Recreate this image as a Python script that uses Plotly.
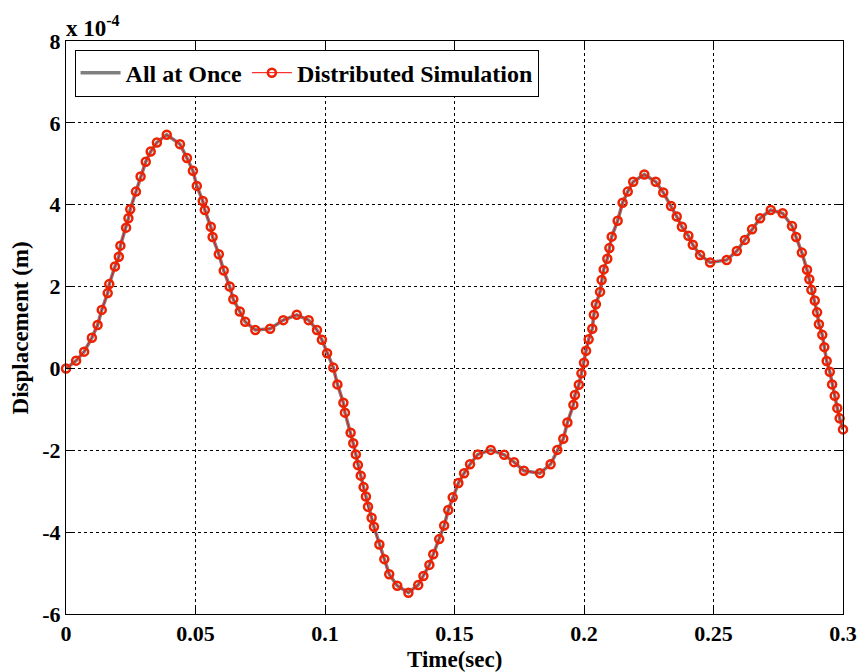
import plotly.graph_objects as go

# Time (s) and displacement (units of 1e-4 m)
time_s = [0.0000, 0.0039, 0.0070, 0.0100, 0.0122, 0.0138, 0.0161, 0.0167, 0.0189, 0.0204,
          0.0210, 0.0232, 0.0241, 0.0248, 0.0270, 0.0288, 0.0308, 0.0327, 0.0351, 0.0389,
          0.0440, 0.0467, 0.0490, 0.0505, 0.0528, 0.0536, 0.0559, 0.0566, 0.0590, 0.0609,
          0.0632, 0.0646, 0.0671, 0.0692, 0.0731,
          0.0788, 0.0839, 0.0891, 0.0937, 0.0969, 0.0988, 0.1008, 0.1032, 0.1048, 0.1071,
          0.1077, 0.1099, 0.1109, 0.1119, 0.1127, 0.1138, 0.1149, 0.1158, 0.1166, 0.1180,
          0.1189, 0.1210, 0.1229, 0.1248, 0.1279, 0.1322, 0.1360, 0.1380, 0.1403, 0.1418,
          0.1441, 0.1460, 0.1476, 0.1493, 0.1515,
          0.1537, 0.1560, 0.1590, 0.1640, 0.1692, 0.1730, 0.1768, 0.1830, 0.1871, 0.1897,
          0.1920, 0.1936, 0.1959, 0.1965, 0.1980, 0.1990, 0.2000, 0.2008, 0.2018, 0.2032,
          0.2038, 0.2046, 0.2062, 0.2068, 0.2076, 0.2090, 0.2098, 0.2107, 0.2130, 0.2149,
          0.2169, 0.2190, 0.2233,
          0.2277, 0.2306, 0.2336, 0.2358, 0.2378, 0.2403, 0.2420, 0.2448, 0.2487, 0.2551,
          0.2590, 0.2621, 0.2649, 0.2680, 0.2721, 0.2767, 0.2803, 0.2819, 0.2841, 0.2861,
          0.2870, 0.2878, 0.2891, 0.2900, 0.2907, 0.2920, 0.2928, 0.2937, 0.2949, 0.2958,
          0.2968, 0.2978, 0.2987, 0.3000]

disp_all_at_once = [0.00, 0.19, 0.41, 0.75, 1.06, 1.43, 1.84, 2.06, 2.49, 2.73,
                    3.00, 3.44, 3.67, 3.89, 4.32, 4.69, 5.05, 5.30, 5.52, 5.71,
                    5.48, 5.14, 4.83, 4.46, 4.09, 3.87, 3.46, 3.21, 2.79, 2.39,
                    2.00, 1.69, 1.39, 1.14, 0.94,
                    0.97, 1.18, 1.31, 1.18, 0.94, 0.70, 0.37, 0.02, -0.39, -0.84,
                    -1.08, -1.57, -1.83, -2.10, -2.36, -2.62, -2.90, -3.13, -3.38, -3.65,
                    -3.87, -4.30, -4.66, -5.03, -5.31, -5.48, -5.29, -5.07, -4.80, -4.54,
                    -4.17, -3.84, -3.46, -3.15, -2.80,
                    -2.56, -2.34, -2.10, -1.99, -2.11, -2.29, -2.50, -2.56, -2.34, -1.99,
                    -1.72, -1.32, -0.89, -0.65, -0.40, -0.12, 0.14, 0.43, 0.71, 0.97,
                    1.31, 1.57, 1.87, 2.16, 2.42, 2.68, 2.94, 3.22, 3.61, 4.05,
                    4.32, 4.56, 4.74,
                    4.56, 4.30, 3.97, 3.71, 3.46, 3.24, 3.02, 2.77, 2.59, 2.65,
                    2.87, 3.14, 3.40, 3.67, 3.87, 3.79, 3.48, 3.21, 2.83, 2.41,
                    2.18, 1.92, 1.66, 1.37, 1.08, 0.82, 0.52, 0.18, -0.08, -0.39,
                    -0.67, -0.97, -1.22, -1.49]

disp_distributed = list(disp_all_at_once)

x_ticks = [0, 0.05, 0.1, 0.15, 0.2, 0.25, 0.3]
x_tick_labels = ["0", "0.05", "0.1", "0.15", "0.2", "0.25", "0.3"]
y_ticks = [-6, -4, -2, 0, 2, 4, 6, 8]
y_tick_labels = ["-6", "-4", "-2", "0", "2", "4", "6", "8"]

FONT = "Liberation Serif"

fig = go.Figure()
fig.add_trace(go.Scatter(
    x=time_s, y=disp_all_at_once, mode="lines", name="All at Once",
    line=dict(color="#7f7f7f", width=3.5), cliponaxis=False))
fig.add_trace(go.Scatter(
    x=time_s, y=disp_distributed, mode="lines+markers", name="Distributed Simulation",
    line=dict(color="#ff0000", width=1),
    marker=dict(symbol="circle-open", size=8, color="#ee2200", line=dict(width=2.5, color="#ee2200")),
    cliponaxis=False))

axis_common = dict(
    showline=True, linecolor="black", linewidth=1, mirror="ticks",
    ticks="inside", ticklen=7, tickcolor="black",
    showgrid=True, gridcolor="black", gridwidth=1, griddash="3px,3px",
    zeroline=False, automargin=False,
    tickfont=dict(family=FONT, size=22, color="black", weight="bold"),
)

fig.update_xaxes(range=[0, 0.3], tickvals=x_ticks, ticktext=x_tick_labels, **axis_common)
fig.update_yaxes(range=[-6, 8], tickvals=y_ticks, ticktext=y_tick_labels, **axis_common)

title_font = dict(family=FONT, size=23, color="black", weight="bold")
fig.add_annotation(xref="paper", yref="paper", x=0.5, y=-0.079, xanchor="center", yanchor="middle",
                   text="Time(sec)", showarrow=False, font=title_font)
fig.add_annotation(xref="paper", yref="paper", x=-0.058, y=0.5, xanchor="center", yanchor="middle",
                   text="Displacement (m)", textangle=-90, showarrow=False, font=title_font)
fig.add_annotation(xref="paper", yref="paper", x=0.0, y=1.0, xanchor="left", yanchor="bottom",
                   text="x 10<sup>-4</sup>", showarrow=False, xshift=-2, yshift=-2,
                   font=dict(family=FONT, size=23, color="black", weight="bold"))

fig.update_layout(
    width=861, height=672,
    margin=dict(l=66, r=18, t=41, b=58),
    paper_bgcolor="white", plot_bgcolor="white",
    font=dict(family=FONT, color="black"),
    showlegend=True,
    legend=dict(orientation="h", x=0.011, y=0.985, xanchor="left", yanchor="top",
                bgcolor="white", bordercolor="black", borderwidth=1,
                font=dict(family=FONT, size=24, color="black", weight="bold"),
                itemwidth=40, tracegroupgap=0),
)

fig.write_html("out.html", config={"displayModeBar": False},
               post_script="document.body.style.margin='0px';document.body.style.overflow='hidden';")
